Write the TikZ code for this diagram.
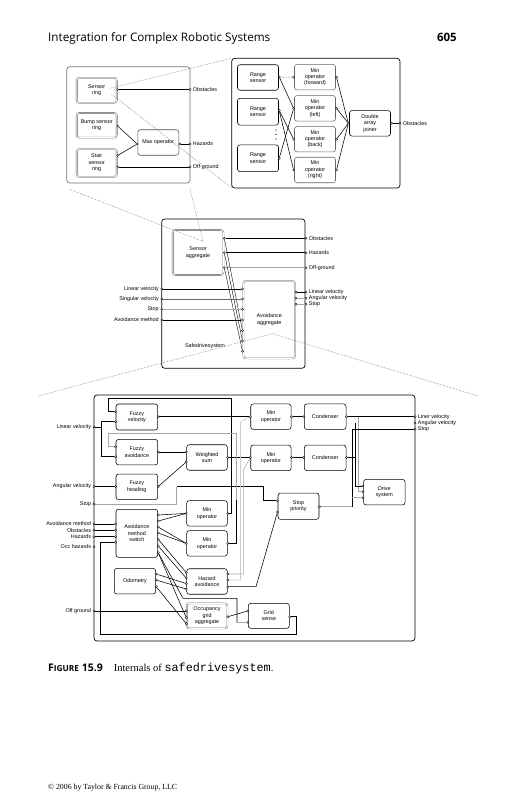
\documentclass[tikz,border=0pt]{standalone}
\usepackage{fontspec}
\setmainfont{Liberation Serif}
\setmonofont{Liberation Mono}
\newfontfamily\diagfont{Liberation Sans}
\newfontfamily\headfont{Open Sans}
\usetikzlibrary{positioning, calc}

\begin{document}
\begin{tikzpicture}[x=1pt, y=-1pt,
  box/.style={draw, rounded corners=2.5pt, line width=0.55pt, minimum width=41pt,
              minimum height=25.5pt, inner sep=0pt, align=center,
              font=\diagfont\fontsize{5.4}{6.4}\selectfont},
  dbox/.style={box, draw=black!65, double=white, double distance=0.9pt, line width=0.35pt},
  panel/.style={draw, rounded corners=3pt, line width=0.7pt, inner sep=0pt, outer sep=0pt},
  port/.style={circle, draw, fill=white, line width=0.35pt, inner sep=0pt, minimum size=2.2pt},
  lbl/.style={font=\diagfont\fontsize{5.4}{6.4}\selectfont, inner sep=1.5pt},
  wire/.style={line width=0.55pt},
  gwire/.style={line width=0.55pt, draw=black!35},
  zoomln/.style={densely dotted, line width=0.5pt, draw=black!60},
  txt/.style={anchor=base west, inner sep=0pt},
]
\path[use as bounding box, fill=white] (0,0) rectangle (504,800);

% Running head
\node[txt, font=\headfont\fontsize{11.7}{13}\selectfont] (head) at (48,42) {Integration for Complex Robotic Systems};
\node[txt, anchor=base east, font=\headfont\bfseries\fontsize{11.5}{13}\selectfont] (pageno) at (457,42) {605};

% ---- Sensor aggregate internals (top left)
\node[panel, draw=black!55, minimum width=123.3pt, minimum height=116.3pt] (lpanel) at (128.35,124.85) {};
\node[dbox, minimum width=40pt, minimum height=25pt] (sring) at (96.7,90.3) {Sensor\\ring};
\node[dbox, minimum width=40pt, minimum height=24.7pt] (bump) at (96.7,125.3) {Bump sensor\\ring};
\node[dbox, minimum width=40pt, minimum height=27.7pt] (stair) at (96.7,163) {Stair\\sensor\\ring};
\node[box, draw=black!70] (maxop) at (158.3,142.5) {Max operator};

\node[port] (sringO) at (117.6,89.5) {};
\node[port] (bumpO) at (117.6,126) {};
\node[port] (stairO1) at (117.6,155.5) {};
\node[port] (stairO2) at (117.6,167) {};
\node[port] (maxI) at (137.2,144) {};
\node[port] (maxO) at (179.8,144) {};
\node[port, label={[lbl]right:Obstacles}] (lObs) at (190,89.5) {};
\node[port, label={[lbl]right:Hazards}] (lHaz) at (190,144) {};
\node[port, label={[lbl]right:Off-ground}] (lOff) at (190,167) {};

\draw[wire] (sringO) -- (lObs);
\draw[wire] (bumpO) -- (maxI);
\draw[wire] (stairO1) -- (maxI);
\draw[wire] (maxO) -- (lHaz);
\draw[wire] (stairO2) -- (lOff);

% ---- Sensor ring internals (top right)
\node[panel, minimum width=168.3pt, minimum height=129.7pt] (rpanel) at (315.85,123.15) {};
\node[box] (rs1) at (258,77.5) {Range\\sensor};
\node[box, minimum height=26.7pt] (rs2) at (258,111.7) {Range\\sensor};
\node[box, minimum height=26.7pt] (rs3) at (258,158.3) {Range\\sensor};
\foreach \yy in {130,134.5,139} \fill (276,\yy) circle (0.6pt);
\node[box, draw=black!60] (mof) at (315,77.2) {Min\\operator\\(forward)};
\node[box, draw=black!60] (mol) at (315,108.3) {Min\\operator\\(left)};
\node[box, draw=black!60] (mob) at (315,139.2) {Min\\operator\\(back)};
\node[box, draw=black!60] (mor) at (315,170) {Min\\operator\\(right)};
\node[box] (daj) at (370,123.3) {Double\\array\\joiner};

\node[port] (rs1O) at (279.2,77) {};
\node[port] (rs2O) at (279.2,110.5) {};
\node[port] (rs3O) at (279.2,158.3) {};
\node[port] (mofI) at (293.6,77.2) {};
\node[port] (molI) at (293.6,108.3) {};
\node[port] (mobI) at (293.6,139.2) {};
\node[port] (morI) at (293.6,170) {};
\node[port] (mofO) at (336.5,77.2) {};
\node[port] (molO) at (336.5,108.3) {};
\node[port] (mobO) at (336.5,139.2) {};
\node[port] (morO) at (336.5,170) {};
\node[port] (dajI) at (348.3,123.3) {};
\node[port] (dajO) at (391.5,123.3) {};
\node[port, label={[lbl]right:Obstacles}] (rObs) at (400,123.3) {};

\draw[gwire] (rs1O) -- (mofI);
\draw[wire] (rs1O) -- (molI);
\draw[wire] (rs2O) -- (mobI);
\draw[wire] (rs2O) -- (morI);
\draw[wire] (rs3O) -- (molI);
\foreach \m in {mofO,molO,mobO,morO} \draw[wire] (\m) -- (dajI);
\draw[wire] (dajO) -- (rObs);

% ---- Safedrivesystem
\node[panel, minimum width=143.3pt, minimum height=149.3pt] (sds) at (233.35,293.65) {};
\node[dbox, minimum width=50.6pt, minimum height=45pt] (sagg) at (198,252.5) {Sensor\\aggregate};
\node[dbox, minimum width=51.7pt, minimum height=77.3pt] (aagg) at (269.2,319.7) {Avoidance\\aggregate};
\node[lbl] (sdsname) at (205,346) {Safedrivesystem};

\node[port] (saggO1) at (224.3,238.3) {};
\node[port] (saggO2) at (224.3,252.7) {};
\node[port] (saggO3) at (224.3,267.7) {};
\node[port, label={[lbl]right:Obstacles}] (sObs) at (306,238.3) {};
\node[port, label={[lbl]right:Hazards}] (sHaz) at (306,252.7) {};
\node[port, label={[lbl]right:Off-ground}] (sOff) at (306,267.7) {};
\node[port, label={[lbl]left:Linear velocity}] (sLV) at (161.7,289) {};
\node[port, label={[lbl]left:Singular velocity}] (sSV) at (161.7,299) {};
\node[port, label={[lbl]left:Stop}] (sStop) at (161.7,309.3) {};
\node[port, label={[lbl]left:Avoidance method}] (sAM) at (161.7,320) {};
\foreach \i/\yy in {1/289,2/299,3/309.3,4/320,5/330.7,6/341,7/351.3}
  \node[port] (aaggI\i) at (242.5,\yy) {};
\node[port] (aaggO1) at (296,292.3) {};
\node[port] (aaggO2) at (296,298.3) {};
\node[port] (aaggO3) at (296,304.3) {};
\node[port, label={[lbl]right:Linear velocity}] (sOutLV) at (306,292.3) {};
\node[port, label={[lbl]right:Angular velocity}] (sOutAV) at (306,298.3) {};
\node[port, label={[lbl]right:Stop}] (sOutStop) at (306,304.3) {};

\draw[wire] (saggO1) -- (sObs);
\draw[wire] (saggO2) -- (sHaz);
\draw[gwire] (saggO3) -- (sOff);
\draw[wire, line width=0.4pt] (saggO1) -- (aaggI5);
\draw[wire, line width=0.4pt] (saggO2) -- (aaggI6);
\draw[wire, line width=0.4pt] (saggO3) -- (aaggI7);
\draw[wire] (sLV) -- (aaggI1);
\draw[wire, draw=black!60] (sSV) -- (aaggI2);
\draw[gwire] (sStop) -- (aaggI3);
\draw[wire] (sAM) -- (aaggI4);
\draw[wire] (aaggO1) -- (sOutLV);
\draw[gwire] (aaggO2) -- (sOutAV);
\draw[gwire] (aaggO3) -- (sOutStop);

% ---- Avoidance aggregate internals (bottom)
\node[panel, minimum width=321pt, minimum height=246pt] (bpanel) at (254.5,518) {};
\node[box, minimum width=41.7pt, minimum height=26pt] (fv) at (136.85,417) {Fuzzy\\velocity};
\node[box, minimum width=41.7pt] (fa) at (136.85,452.2) {Fuzzy\\avoidance};
\node[box, minimum width=41.7pt] (fh) at (136.85,486.8) {Fuzzy\\heading};
\node[box, minimum width=40.6pt] (ws) at (207,457.5) {Weighted\\sum};
\node[box, minimum width=40.3pt] (mo1) at (270.9,416.7) {Min\\operator};
\node[box, minimum width=40.3pt] (mo2) at (270.9,457.9) {Min\\operator};
\node[box, minimum width=41.7pt] (cd1) at (325.2,416.7) {Condenser};
\node[box, minimum width=41.7pt] (cd2) at (325.2,457.9) {Condenser};
\node[box, minimum width=41.5pt] (drv) at (384.3,492.2) {Drive\\system};
\node[box, minimum height=26.3pt] (stp) at (298.5,506.2) {Stop\\priority};
\node[box, minimum width=41.7pt, minimum height=48pt] (ams) at (136.85,533.3) {Avoidance\\method\\switch};
\node[box, minimum width=40.6pt] (mo3) at (207,513.4) {Min\\operator};
\node[box, minimum width=40.6pt] (mo4) at (207,543.4) {Min\\operator};
\node[box, minimum width=40.6pt] (haz) at (207,581.5) {Hazard\\avoidance};
\node[box, minimum width=41.4pt] (odo) at (135,581.2) {Odometry};
\node[dbox, minimum width=40.6pt, minimum height=25pt] (oga) at (207,615.8) {Occupancy\\grid\\aggregate};
\node[box, minimum height=25pt] (gs) at (268.8,615.8) {Grid\\sense};

% inputs and outputs
\node[port, label={[lbl]left:Linear velocity}] (inLV) at (94,427) {};
\node[port, label={[lbl]left:Angular velocity}] (inAV) at (94,486.5) {};
\node[port, label={[lbl]left:Stop}] (inStop) at (94,504) {};
\node[port, label={[lbl]left:Avoidance method}] (inAM) at (94,524) {};
\node[port, label={[lbl]left:Obstacles}] (inObs) at (94,530.3) {};
\node[port, label={[lbl]left:Hazards}] (inHaz) at (94,536.7) {};
\node[port, label={[lbl]left:Occ hazards}] (inOcc) at (94,546.7) {};
\node[port, label={[lbl]left:Off ground}] (inOff) at (94,611) {};
\node[port, label={[lbl]right:Liner velocity}] (outLV) at (415,416.7) {};
\node[port, label={[lbl]right:Angular velocity}] (outAV) at (415,423) {};
\node[port, label={[lbl]right:Stop}] (outStop) at (415,429.3) {};

% block ports
\node[port] (fvI1) at (115.5,411.7) {};
\node[port] (fvI2) at (115.5,421.7) {};
\node[port] (fvO) at (158.2,416.7) {};
\node[port] (faI1) at (115.5,446.7) {};
\node[port] (faI2) at (115.5,456.7) {};
\node[port] (faO) at (158.2,452) {};
\node[port] (fhI) at (115.5,486.5) {};
\node[port] (fhO) at (158.2,486.5) {};
\node[port] (wsI1) at (186.2,452) {};
\node[port] (wsI2) at (186.2,462) {};
\node[port] (wsO) at (227.8,457.5) {};
\node[port] (mo1I) at (250.2,416.7) {};
\node[port] (mo1O) at (291.5,416.7) {};
\node[port] (mo2I) at (250.2,457.5) {};
\node[port] (mo2O) at (291.5,457.5) {};
\node[port] (cd1I) at (303.8,416.7) {};
\node[port] (cd1O) at (346.5,416.7) {};
\node[port] (cd2I) at (303.8,457.5) {};
\node[port] (cd2O) at (346.5,457.5) {};
\node[port] (drvI1) at (363,486) {};
\node[port] (drvI2) at (363,491.7) {};
\node[port] (drvI3) at (363,497.7) {};
\node[port] (stpI1) at (277.5,500.7) {};
\node[port] (stpI2) at (277.5,512) {};
\node[port] (stpO) at (319.5,506.7) {};
\foreach \i/\yy in {1/524,2/530.3,3/536.7,4/542.3}
  \node[port] (amsI\i) at (115.5,\yy) {};
\foreach \i/\yy in {1/515,2/521,3/527,4/533,5/539.3,6/546,7/552.7}
  \node[port] (amsO\i) at (158.2,\yy) {};
\node[port] (mo3I) at (186.2,513.4) {};
\node[port] (mo3O) at (227.8,513.4) {};
\node[port] (mo4I) at (186.2,543.4) {};
\node[port] (mo4O) at (227.8,543.4) {};
\foreach \i/\yy in {1/572.5,2/578,3/583.5,4/589}
  \node[port] (hazI\i) at (186.2,\yy) {};
\foreach \i/\yy in {1/574,2/580,3/586.7}
  \node[port] (hazO\i) at (227.8,\yy) {};
\foreach \i/\yy in {1/574,2/580,3/586.7}
  \node[port] (odoO\i) at (156.2,\yy) {};
\foreach \i/\yy in {1/611,2/617.5,3/623.5}
  \node[port] (ogaI\i) at (186.2,\yy) {};
\node[port] (ogaO) at (227.8,616.7) {};
\node[port] (gsI1) at (247.8,611) {};
\node[port] (gsI2) at (247.8,622.3) {};
\node[port] (gsO) at (289.8,616.7) {};

% velocity and heading chain
\draw[wire] (inLV) -- (101,427) |- (fvI2);
\draw[wire] (101,427) |- (faI2);
\draw[wire] (inAV) -- (fhI);
\draw[wire] (fvO) -- (mo1I);
\draw[wire] (faO) -- (wsI1);
\draw[wire] (fhO) -- (wsI2);
\draw[wire] (wsO) -- (mo2I);
\draw[wire] (mo1O) -- (cd1I);
\draw[wire] (mo2O) -- (cd2I);
\draw[wire] (cd1O) -- (outLV);
\draw[gwire] (358,416.7) |- (drvI2);
\draw[wire] (cd2O) -| (355,423);
\draw[wire] (355,457.5) |- (drvI1);

% stop handling
\draw[gwire] (inStop) -| (176.7,486.7);
\draw[wire] (176.7,486.7) -| (263.3,500.7) -- (stpI1);
\draw[gwire] (stpO) -- (352,506.7);
\draw[wire] (352,506.7) |- (outStop);
\draw[gwire] (352,497.7) -- (drvI3);

% feedback from min operators
\draw[wire] (mo3O) -| (231.7,398.3) -| (108.3,411.7) -- (fvI1);
\draw[wire] (mo4O) -| (236.7,500);
\draw[gwire] (236.7,500) -- (236.7,433.3) -| (108.3,446.7) -- (faI1);

% avoidance method switch
\draw[wire] (inAM) -- (amsI1);
\draw[wire] (inObs) -- (amsI2);
\draw[wire] (inHaz) -- (amsI3);
\draw[wire] (gsO) -| (296.7,634) -| (100,542.3) -- (amsI4);
\draw[wire] (amsO1) -- (mo3I);
\draw[wire] (amsO2) -- (mo3I);
\draw[wire] (amsO3) -- (mo4I);
\draw[wire] (amsO4) -- (mo4I);
\draw[wire] (amsO5) -- (hazI1);
\draw[wire] (amsO6) -- (hazI2);
\draw[wire] (amsO7) -- (ogaI2);
\draw[wire] (amsO7) -- (183,598.3) -| (237,622.3);
\draw[gwire] (237,622.3) -- (gsI2);
\draw[wire] (odoO1) -- (hazI3);
\draw[wire] (odoO2) -- (hazI4);
\draw[wire] (odoO3) -- (ogaI3);
\draw[wire] (inOff) -- (ogaI1);
\draw[wire] (ogaO) -- (gsI1);

% hazard avoidance outputs
\draw[gwire] (hazO1) -| (243.3,470) -- (mo2I);
\draw[gwire, draw=black!20] (hazO2) -| (240.5,422) -- (mo1I);
\draw[wire] (hazO3) -- (256,586.7) -- (stpI2);

% zoom guides
\draw[zoomln] ($(sring.center)+(13,-2)$) -- (rpanel.north west);
\draw[zoomln] ($(sring.center)+(15,4)$) -- (rpanel.south west);
\draw[zoomln] ($(lpanel.south west)+(2,6)$) -- ($(sagg.center)+(5,-11)$);
\draw[zoomln] ($(lpanel.south east)+(0,6)$) -- ($(sagg.center)+(5,-11)$);
\draw[zoomln] ($(aagg.center)+(3,14)$) -- (38,396);
\draw[zoomln] ($(aagg.center)+(3,14)$) -- (478,396);

% Caption and footer
\node[txt] (caption) at (48,671) {{\headfont\bfseries\fontsize{10.5}{12}\selectfont F{\fontsize{8.3}{10}\selectfont IGURE} 15.9}\hspace{11pt}{\fontsize{10.5}{12}\selectfont Internals of {\fontsize{11.8}{12}\selectfont\ttfamily safedrivesystem}.}};
\node[txt] (footer) at (48,789) {\fontsize{7.8}{9}\selectfont \textcopyright{} 2006 by Taylor \& Francis Group, LLC};

\end{tikzpicture}
\end{document}
